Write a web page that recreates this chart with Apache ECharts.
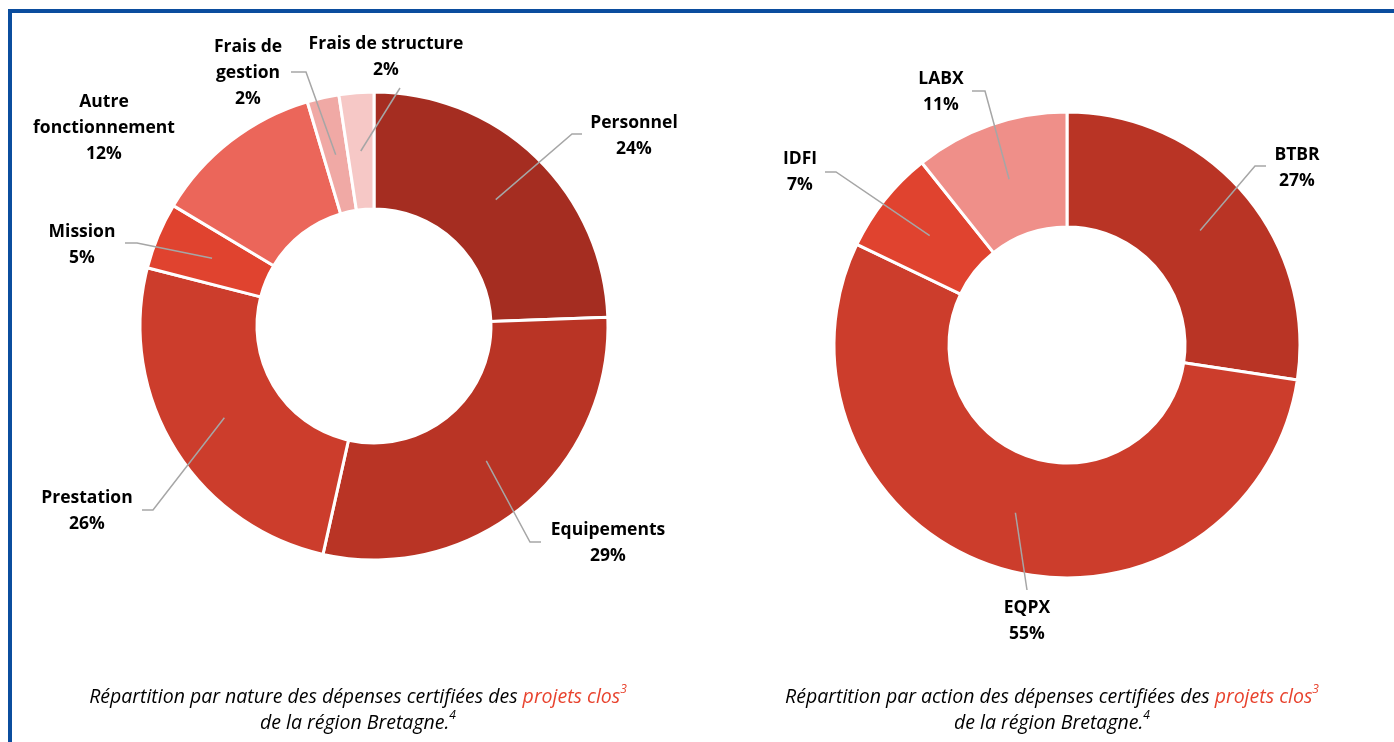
<!DOCTYPE html>
<html>
<head>
<meta charset="utf-8">
<script src="https://cdn.jsdelivr.net/npm/echarts@6/dist/echarts.min.js"></script>
<style>
html,body{margin:0;padding:0;background:#fff;}
#chart{width:1394px;height:742px;}
</style>
</head>
<body>
<div id="chart"></div>
<script>
// ---- Data ----
const natureCategories = ['Personnel', 'Equipements', 'Prestation', 'Mission', 'Autre\nfonctionnement', 'Frais de\ngestion', 'Frais de structure'];
const natureValues = [24.4, 29.1, 25.5, 4.6, 11.8, 2.2, 2.4];
const actionCategories = ['BTBR', 'EQPX', 'IDFI', 'LABX'];
const actionValues = [27.4, 54.7, 7.2, 10.7];
const captionLeft = ['Répartition par nature des dépenses certifiées des ', 'projets clos', '3', 'de la région Bretagne.', '4'];
const captionRight = ['Répartition par action des dépenses certifiées des ', 'projets clos', '3', 'de la région Bretagne.', '4'];

// ---- Styles / layout ----
const natureColors = ['#a52d21', '#b93425', '#cc3d2c', '#e0432f', '#eb665a', '#f0a9a5', '#f6c8c6'];
const actionColors = ['#b93425', '#cc3d2c', '#e0432f', '#ef8f89'];
const leftPie = {cx: 374, cy: 326, r0: 117, r1: 234};
const rightPie = {cx: 1067, cy: 345, r0: 118, r1: 233};
// label layout: [labelCenterX, labelCenterY, elbowX, elbowY, endX] (null elbow = no line)
const natureLabelPos = [
  [634, 136, 572, 134, 582],
  [608, 543, 530, 542, 541],
  [87, 511, 153, 510, 142],
  [82, 245, 137, 243, 125],
  [104, 128, null, null, null],
  [248, 73, 306, 72, 291],
  [386, 57, 400, 88, 400]
];
const actionLabelPos = [
  [1297, 168, 1255, 166, 1266],
  [1027, 621, 1027, 590, 1027],
  [800, 172, 836, 172, 825],
  [941, 92, 985, 91, 972]
];

const LABEL_FONT = 'Open Sans';
const CAPTION_FONT = 'Open Sans';

function midPoints(values, pie) {
  const total = values.reduce((a, b) => a + b, 0);
  let cum = 0;
  const rm = (pie.r0 + pie.r1) / 2;
  return values.map(v => {
    const a = (cum + v / 2) / total * 2 * Math.PI;
    cum += v;
    return [pie.cx + rm * Math.sin(a), pie.cy - rm * Math.cos(a)];
  });
}

// coloured ring (no labels)
function ringSeries(names, values, colors, pie) {
  return {
    type: 'pie',
    z: 2,
    center: [pie.cx, pie.cy],
    radius: [pie.r0, pie.r1],
    startAngle: 90,
    clockwise: true,
    animation: false,
    silent: true,
    itemStyle: {borderColor: '#ffffff', borderWidth: 3},
    label: {show: false},
    labelLine: {show: false},
    data: names.map((n, i) => ({name: n, value: values[i], itemStyle: {color: colors[i]}}))
  };
}

// transparent overlay carrying the labels and leader lines (drawn above the ring)
function labelSeries(names, values, pie, labelPos) {
  const mids = midPoints(values, pie);
  return {
    type: 'pie',
    z: 5,
    center: [pie.cx, pie.cy],
    radius: [pie.r0, pie.r1],
    startAngle: 90,
    clockwise: true,
    avoidLabelOverlap: false,
    animation: false,
    silent: true,
    itemStyle: {color: 'rgba(0,0,0,0)', borderWidth: 0},
    label: {
      show: true,
      position: 'outside',
      formatter: p => p.name + '\n' + Math.round(p.percent) + '%',
      fontFamily: LABEL_FONT,
      fontWeight: 'bold',
      fontSize: 17.5,
      lineHeight: 26,
      color: '#000000',
      align: 'center'
    },
    labelLine: {show: true, lineStyle: {color: '#a6a6a6', width: 1.5}, smooth: false},
    labelLayout: function (params) {
      const lp = labelPos[params.dataIndex];
      const res = {x: lp[0], y: lp[1], align: 'center', verticalAlign: 'middle'};
      if (lp[2] !== null) {
        res.labelLinePoints = [mids[params.dataIndex], [lp[2], lp[3]], [lp[4], lp[3]]];
      }
      return res;
    },
    data: names.map((n, i) => {
      const d = {name: n, value: values[i]};
      if (labelPos[i][2] === null) d.labelLine = {show: false};
      return d;
    })
  };
}

function caption(parts, cx) {
  const base = {fontFamily: CAPTION_FONT, fontStyle: 'italic', fontWeight: 'normal', fontSize: 19.5, lineHeight: 26};
  return {
    left: cx,
    top: 684,
    textAlign: 'center',
    padding: 0,
    text: '{n|' + parts[0] + '}{r|' + parts[1] + '}{s|' + parts[2] + '}\n{n|' + parts[3] + '}{sb|' + parts[4] + '}',
    textStyle: {
      fontFamily: CAPTION_FONT, fontStyle: 'italic', fontWeight: 'normal', fontSize: 19.5, lineHeight: 26, color: '#000000',
      rich: {
        n: Object.assign({}, base, {color: '#000000'}),
        r: Object.assign({}, base, {color: '#e8432e'}),
        s: Object.assign({}, base, {fontSize: 12, color: '#e8432e', verticalAlign: 'top'}),
        sb: Object.assign({}, base, {fontSize: 12, color: '#000000', verticalAlign: 'top'})
      }
    }
  };
}

const chart = echarts.init(document.getElementById('chart'), null, {renderer: 'canvas'});
chart.setOption({
  backgroundColor: '#ffffff',
  animation: false,
  title: [caption(captionLeft, 358), caption(captionRight, 1052)],
  series: [
    ringSeries(natureCategories, natureValues, natureColors, leftPie),
    ringSeries(actionCategories, actionValues, actionColors, rightPie),
    labelSeries(natureCategories, natureValues, leftPie, natureLabelPos),
    labelSeries(actionCategories, actionValues, rightPie, actionLabelPos)
  ],
  graphic: [
    {type: 'line', silent: true, shape: {x1: 10, y1: 9, x2: 10, y2: 742}, style: {stroke: '#0b4d9e', lineWidth: 4}},
    {type: 'line', silent: true, shape: {x1: 8, y1: 11, x2: 1394, y2: 11}, style: {stroke: '#0b4d9e', lineWidth: 4}}
  ]
});
</script>
</body>
</html>
